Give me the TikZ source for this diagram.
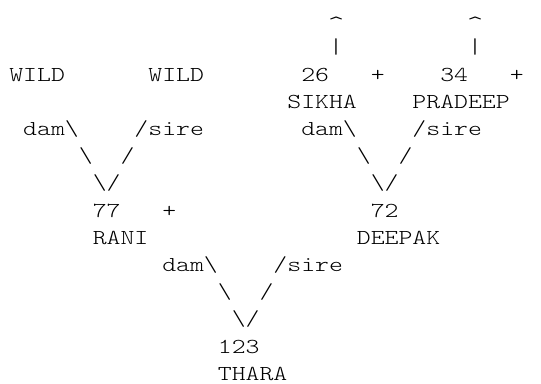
\documentclass[tikz,border=0pt]{standalone}
\usepackage{fontspec}
\newfontfamily\asciimono{lmmonolt10-regular}[Extension=.otf, FakeStretch=1.243]
\newcommand{\bs}{\textbackslash}
\begin{document}
\begin{tikzpicture}
\useasboundingbox (0pt,0pt) rectangle (541pt,383pt);
\begin{scope}[shift={(9.35pt,356.3pt)}, x=13.9pt, y=-27.2pt,
  txt/.style={anchor=base west, inner sep=0pt, outer sep=0pt,
    font=\asciimono\fontsize{21.3}{27}\selectfont, text=black},
  caret/.style={txt, font=\asciimono\fontsize{25}{27}\selectfont, xshift=-1pt, yshift=-6pt}]
% row 0
\node[caret] (up1) at (23,0) {\textasciicircum};
\node[caret] (up2) at (33,0) {\textasciicircum};
% row 1
\node[txt] (bar1) at (23,1) {|};
\node[txt] (bar2) at (33,1) {|};
% row 2
\node[txt] (wild1) at (0,2) {WILD};
\node[txt] (wild2) at (10,2) {WILD};
\node[txt] (n26) at (21,2) {26};
\node[txt] (plus1) at (26,2) {+};
\node[txt] (n34) at (31,2) {34};
\node[txt] (plus2) at (36,2) {+};
% row 3
\node[txt] (sikha) at (20,3) {SIKHA};
\node[txt] (pradeep) at (29,3) {PRADEEP};
% row 4
\node[txt] (dam1) at (1,4) {dam\bs};
\node[txt] (sire1) at (9,4) {/sire};
\node[txt] (dam2) at (21,4) {dam\bs};
\node[txt] (sire2) at (29,4) {/sire};
% row 5
\node[txt] (l1a) at (5,5) {\bs};
\node[txt] (r1a) at (8,5) {/};
\node[txt] (l2a) at (25,5) {\bs};
\node[txt] (r2a) at (28,5) {/};
% row 6
\node[txt] (v1) at (6,6) {\bs/};
\node[txt] (v2) at (26,6) {\bs/};
% row 7
\node[txt] (n77) at (6,7) {77};
\node[txt] (plus3) at (11,7) {+};
\node[txt] (n72) at (26,7) {72};
% row 8
\node[txt] (rani) at (6,8) {RANI};
\node[txt] (deepak) at (25,8) {DEEPAK};
% row 9
\node[txt] (dam3) at (11,9) {dam\bs};
\node[txt] (sire3) at (19,9) {/sire};
% row 10
\node[txt] (l3a) at (15,10) {\bs};
\node[txt] (r3a) at (18,10) {/};
% row 11
\node[txt] (v3) at (16,11) {\bs/};
% row 12
\node[txt] (n123) at (15,12) {123};
% row 13
\node[txt] (thara) at (15,13) {THARA};
\end{scope}
\end{tikzpicture}
\end{document}
